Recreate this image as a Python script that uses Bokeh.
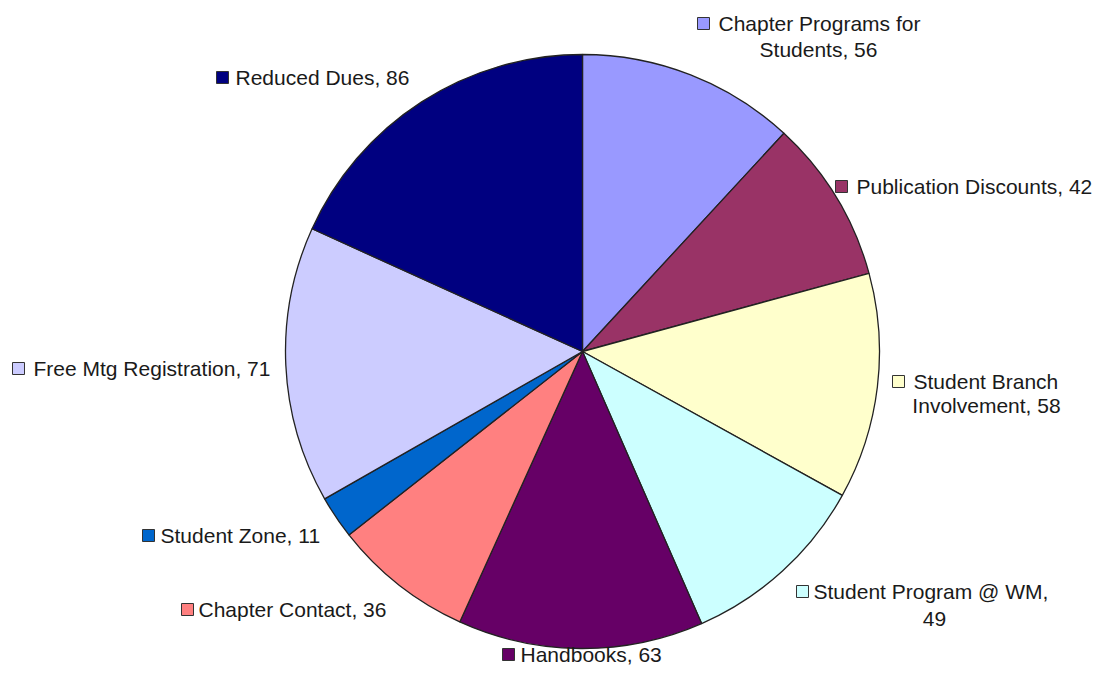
import math
from bokeh.plotting import figure
from bokeh.models import Range1d, ColumnDataSource
from bokeh.core.properties import value
from bokeh.embed import file_html
from bokeh.resources import INLINE

# ---- data ----
categories = ["Chapter Programs for Students", "Publication Discounts",
              "Student Branch Involvement", "Student Program @ WM",
              "Handbooks", "Chapter Contact", "Student Zone",
              "Free Mtg Registration", "Reduced Dues"]
values = [56, 42, 58, 49, 63, 36, 11, 71, 86]

# ---- styles ----
colors = ["#9999FF", "#993366", "#FFFFCC", "#CCFFFF", "#660066",
          "#FF8080", "#0066CC", "#CCCCFF", "#000080"]
# number of words on the first label line (None = single line)
wrap_words = [3, None, 2, 4, None, None, None, None, None]

# ---- layout (picture pixel coordinates, top-left origin) ----
W, H = 1094, 668
cx_px, cy_px, R = 582, 351, 297
marker_px = [(703, 23), (841, 186), (898, 381), (802, 591), (508, 654),
             (187, 609), (148, 535), (18, 368), (222, 77)]
text_left_px = [718, 856, 913, 813, 520, 198, 160, 33, 235]
line2_px = [(818, 49), None, (986, 405), (934, 618), None, None, None, None, None]
FONT_SIZE = "21px"

def X(px):
    return px
def Y(py):
    return H - py

p = figure(width=W, height=H, output_backend="svg", toolbar_location=None,
           x_range=Range1d(0, W), y_range=Range1d(0, H), min_border=0)
p.axis.visible = False
p.grid.visible = False
p.outline_line_color = None
p.background_fill_color = "white"

total = float(sum(values))
starts, ends = [], []
acc = 0.0
for v in values:
    starts.append(math.pi / 2 - 2 * math.pi * acc / total)
    acc += v
    ends.append(math.pi / 2 - 2 * math.pi * acc / total)

src = ColumnDataSource(dict(x=[X(cx_px)] * len(values), y=[Y(cy_px)] * len(values),
                            start=starts, end=ends, color=colors))
p.wedge(x="x", y="y", radius=R, start_angle="start", end_angle="end",
        direction="clock", fill_color="color", line_color="#222222",
        line_width=1.3, source=src)

# labels
l1_x, l1_y, l1_t = [], [], []
l2_x, l2_y, l2_t = [], [], []
for i, (c, v) in enumerate(zip(categories, values)):
    words = f"{c}, {v}".split(" ")
    if wrap_words[i] is None:
        first, second = " ".join(words), None
    else:
        first = " ".join(words[:wrap_words[i]])
        second = " ".join(words[wrap_words[i]:])
    l1_x.append(X(text_left_px[i]))
    l1_y.append(Y(marker_px[i][1]))
    l1_t.append(first)
    if second:
        l2_x.append(X(line2_px[i][0]))
        l2_y.append(Y(line2_px[i][1]))
        l2_t.append(second)

font = value("Liberation Sans")
p.text(x=l1_x, y=l1_y, text=l1_t, text_font=font, text_font_size=FONT_SIZE,
       text_color="#1a1a1a", text_align="left", text_baseline="middle")
p.text(x=l2_x, y=l2_y, text=l2_t, text_font=font, text_font_size=FONT_SIZE,
       text_color="#1a1a1a", text_align="center", text_baseline="middle")

p.scatter(x=[X(m[0]) for m in marker_px], y=[Y(m[1]) for m in marker_px],
          marker="square", size=12, fill_color=colors, line_color="#333333",
          line_width=1)

open("out.html", "w").write(file_html(p, INLINE))
